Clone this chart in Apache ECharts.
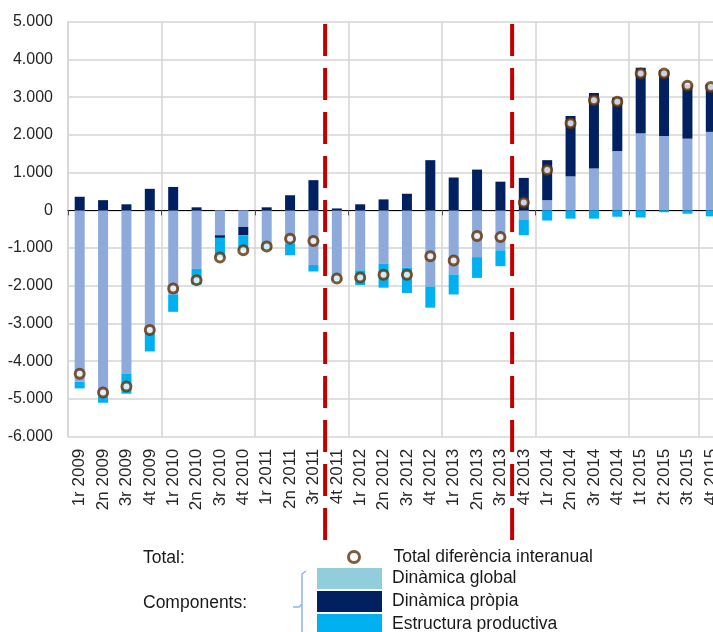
<!DOCTYPE html>
<html>
<head>
<meta charset="utf-8">
<script src="https://cdn.jsdelivr.net/npm/echarts@6/dist/echarts.min.js"></script>
<style>
    html, body { margin: 0; padding: 0; background: #fff; overflow: hidden; }
    #chart { width: 730px; height: 632px; }
</style>
</head>
<body>
<div id="chart"></div>
<script>
var categories = ['1r 2009', '2n 2009', '3r 2009', '4t 2009',
    '1r 2010', '2n 2010', '3r 2010', '4t 2010',
    '1r 2011', '2n 2011', '3r 2011', '4t 2011',
    '1r 2012', '2n 2012', '3r 2012', '4t 2012',
    '1r 2013', '2n 2013', '3r 2013', '4t 2013',
    '1r 2014', '2n 2014', '3r 2014', '4t 2014',
    '1t 2015', '2t 2015', '3t 2015', '4t 2015'];

var dinamicaGlobal = [-4540, -4930, -4330, -3240, -2230, -1550, -660, -440,
    -850, -880, -1450, -1780, -1590, -1410, -1520, -2020,
    -1700, -1240, -1060, -240, 270, 900, 1110, 1570,
    2040, 1970, 1900, 2080];

var dinamicaPropia = [360, 270, 160, 570, 620, 80, -70, -220,
    80, 400, 800, 50, 160, 290, 440, 1330,
    870, 1080, 760, 860, 1060, 1600, 2000, 1420,
    1740, 1750, 1440, 1260];

var estructura = [-180, -170, -530, -500, -460, -420, -520, -400,
    -200, -310, -170, -80, -390, -640, -670, -560,
    -530, -550, -420, -420, -270, -220, -220, -170,
    -190, -50, -90, -160];

var totalDif = [-4330, -4830, -4670, -3170, -2070, -1850, -1250, -1060,
    -960, -750, -810, -1810, -1780, -1710, -1710, -1220,
    -1330, -680, -710, 210, 1070, 2310, 2920, 2880,
    3630, 3630, 3300, 3270];

var yTicks = { min: -6000, max: 5000, step: 1000 };
// breaks between periods, drawn after 3r 2011 and 3r 2013
var breakAfter = [10, 18];

var font = "'Liberation Sans', Arial, sans-serif";
var brown = '#5e3209';

function fmtThousands(v) {
    var s = String(Math.abs(v)).replace(/\B(?=(\d{3})+(?!\d))/g, '.');
    return (v < 0 ? '-' : '') + s;
}

var myChart = echarts.init(document.getElementById('chart'));

var option = {
    animation: false,
    backgroundColor: '#fff',
    textStyle: { fontFamily: font },
    grid: {
        left: 68,
        top: 21.7,
        width: 654.5,
        height: 415
    },
    xAxis: [{
        type: 'category',
        data: categories,
        position: 'bottom',
        axisLine: { show: false, onZero: false },
        axisTick: { show: false },
        axisLabel: {
            interval: 0,
            rotate: 90,
            margin: 12,
            fontSize: 17,
            color: '#262626',
            fontFamily: font
        },
        splitLine: {
            show: true,
            interval: 3,
            lineStyle: { color: '#d4d4d4', width: 1.5 }
        }
    }, {
        type: 'category',
        data: categories,
        position: 'bottom',
        axisLine: { show: true, onZero: true, lineStyle: { color: '#000', width: 1.2 } },
        axisTick: { show: true, interval: 3, length: 5, lineStyle: { color: '#555' } },
        axisLabel: { show: false },
        splitLine: { show: false }
    }],
    yAxis: {
        type: 'value',
        min: yTicks.min,
        max: yTicks.max,
        interval: yTicks.step,
        axisLine: { show: true, lineStyle: { color: '#d4d4d4', width: 1.5 } },
        axisTick: { show: false },
        axisLabel: {
            margin: 15,
            fontSize: 16,
            color: '#262626',
            fontFamily: font,
            formatter: fmtThousands
        },
        splitLine: { lineStyle: { color: '#d4d4d4', width: 1.5 } }
    },
    legend: [{
        orient: 'vertical',
        left: 347,
        top: 548,
        padding: 0,
        itemWidth: 11,
        itemHeight: 11,
        selectedMode: false,
        textStyle: { fontSize: 17.5, color: '#1a1a1a', fontFamily: font, padding: [0, 0, 0, 29] },
        data: [{
            name: 'Total diferència interanual',
            icon: 'circle',
            itemStyle: { color: '#fff', borderColor: brown, borderWidth: 3 }
        }]
    }, {
        orient: 'vertical',
        left: 317,
        top: 568,
        height: 100,
        padding: 0,
        itemWidth: 65,
        itemHeight: 21,
        itemGap: 2,
        selectedMode: false,
        textStyle: { fontSize: 17.5, color: '#1a1a1a', fontFamily: font, padding: [0, 0, 0, 5] },
        data: [
            { name: 'Dinàmica global', icon: 'rect', itemStyle: { color: '#92cddc' } },
            { name: 'Dinàmica pròpia', icon: 'rect', itemStyle: { color: '#002060' } },
            { name: 'Estructura productiva', icon: 'rect', itemStyle: { color: '#00b0f0' } }
        ]
    }],
    series: [{
        name: 'Dinàmica global',
        type: 'bar',
        stack: 'comp',
        barWidth: 10,
        itemStyle: { color: '#8eaadb' },
        data: dinamicaGlobal
    }, {
        name: 'Dinàmica pròpia',
        type: 'bar',
        stack: 'comp',
        barWidth: 10,
        itemStyle: { color: '#002060' },
        data: dinamicaPropia
    }, {
        name: 'Estructura productiva',
        type: 'bar',
        stack: 'comp',
        barWidth: 10,
        itemStyle: { color: '#00b0f0' },
        data: estructura
    }, {
        name: 'Total diferència interanual',
        type: 'scatter',
        symbol: 'circle',
        symbolSize: 9,
        z: 5,
        itemStyle: { color: '#fff', borderColor: brown, borderWidth: 3 },
        data: totalDif
    }]
};

myChart.setOption(option);

// dashed red separators and the bottom annotations
var graphics = [];
for (var i = 0; i < breakAfter.length; i++) {
    var a = myChart.convertToPixel({ xAxisIndex: 0 }, breakAfter[i]);
    var b = myChart.convertToPixel({ xAxisIndex: 0 }, breakAfter[i] + 1);
    var x = (a + b) / 2;
    graphics.push({
        type: 'line',
        z: 10,
        shape: { x1: x, y1: 24, x2: x, y2: 540 },
        style: { stroke: '#c00000', lineWidth: 4, lineDash: [32, 12] }
    });
}
graphics.push({
    type: 'text', left: 143, top: 549,
    style: { text: 'Total:', fontSize: 17.5, fontFamily: font, fill: '#1a1a1a' }
});
graphics.push({
    type: 'text', left: 143, top: 594,
    style: { text: 'Components:', fontSize: 17.5, fontFamily: font, fill: '#1a1a1a' }
});
graphics.push({
    type: 'polyline',
    shape: { points: [[306, 571], [302, 574], [302, 632]] },
    style: { stroke: '#8eb4e3', lineWidth: 1.5, fill: null }
});
graphics.push({
    type: 'polyline',
    shape: { points: [[293, 607], [299, 607], [302, 604]] },
    style: { stroke: '#8eb4e3', lineWidth: 1.5, fill: null }
});

myChart.setOption({ graphic: graphics });
</script>
</body>
</html>
